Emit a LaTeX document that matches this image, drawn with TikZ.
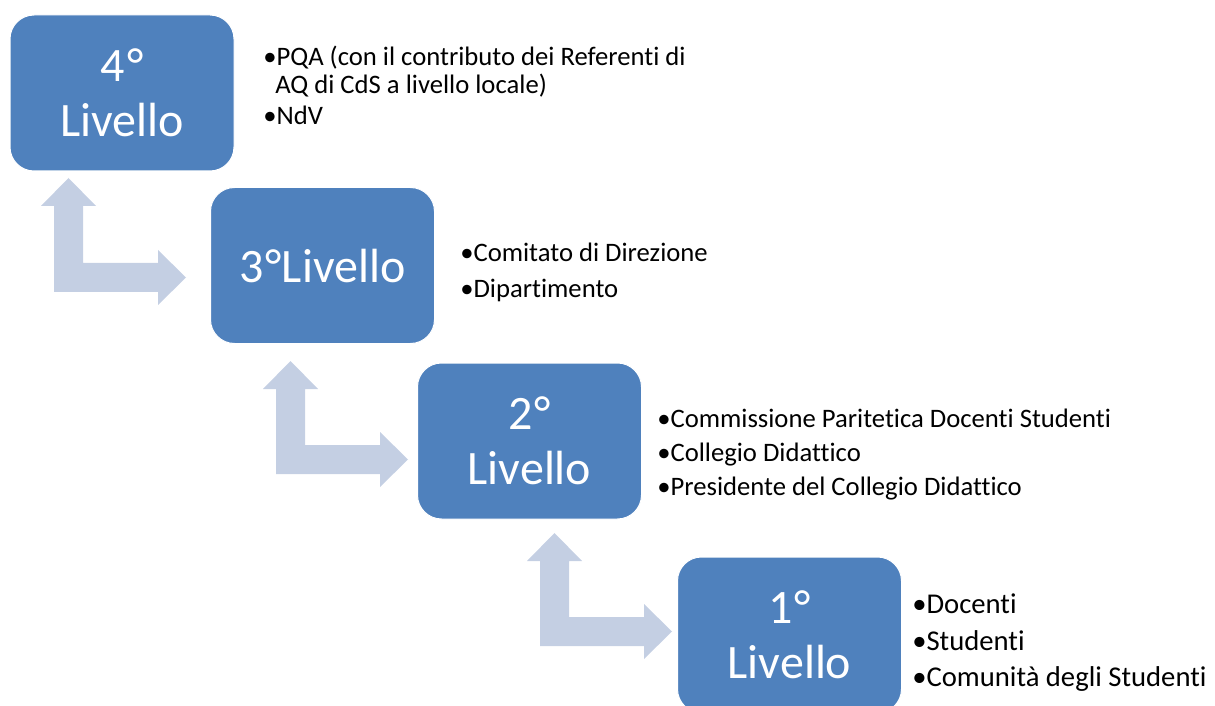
\documentclass[tikz,border=0pt]{standalone}
\usepackage{fontspec}
\setmainfont{Carlito}[Ligatures={NoCommon}]
\definecolor{boxblue}{RGB}{79,129,189}
\definecolor{arrowblue}{RGB}{196,207,227}
\newcommand\degsym{\kern1.5pt°}
\begin{document}
\begin{tikzpicture}[x=0.75pt,y=-0.75pt,
  levelbox/.style={rectangle,rounded corners=18pt,fill=boxblue,draw=white,line width=0.75pt,
    minimum width=168pt,minimum height=117pt,inner sep=0pt,align=center,text=white,
    font=\fontsize{36}{41.25}\selectfont},
  itemtext/.style={anchor=base west,inner sep=0pt,font=\fontsize{20}{24}\selectfont},
  itemtextb/.style={anchor=base west,inner sep=0pt,font=\fontsize{21.5}{25}\selectfont},
  blockarrow/.style={fill=arrowblue,draw=none}]
\useasboundingbox (0,0) rectangle (1215,706);

% block arrows: vertical shaft [a,a+29], top tip ty, bottom hb, right head base hx
\foreach \a/\ty/\hb/\hx in {54/178/292/158, 276/361/474/380, 540/533/646/644}{
  \fill[arrowblue]
    (\a+14.5,\ty) -- (\a+42,\ty+28) -- (\a+29,\ty+28) -- (\a+29,\hb-29)
    -- (\hx,\hb-29) -- (\hx,\hb-42) -- (\hx+28,\hb-14.5) -- (\hx,\hb+13)
    -- (\hx,\hb) -- (\a,\hb) -- (\a,\ty+28) -- (\a-13,\ty+28) -- cycle;
}

\node[levelbox] (l4) at (122,93) {4\degsym\\Livello};
\node[levelbox] (l3) at (322.5,265.5) {3\degsym Livello};
\node[levelbox] (l2) at (529.5,441) {2\degsym\\Livello};
\node[levelbox] (l1) at (789.5,635) {1\degsym\\Livello};

\node[itemtext] (t4a) at (263,66) {•PQA (con il contributo dei Referenti di};
\node[itemtext] (t4b) at (275,94) {AQ di CdS a livello locale)};
\node[itemtext] (t4c) at (263,125) {•NdV};

\node[itemtext] (t3a) at (460,262) {•Comitato di Direzione};
\node[itemtext] (t3b) at (460,297) {•Dipartimento};

\node[itemtext] (t2a) at (657,427) {•Commissione Paritetica Docenti Studenti};
\node[itemtext] (t2b) at (657,461) {•Collegio Didattico};
\node[itemtext] (t2c) at (657,495) {•Presidente del Collegio Didattico};

\node[itemtextb] (t1a) at (912,613) {•Docenti};
\node[itemtextb] (t1b) at (912,650) {•Studenti};
\node[itemtextb] (t1c) at (912,686) {•Comunità degli Studenti};
\end{tikzpicture}
\end{document}
